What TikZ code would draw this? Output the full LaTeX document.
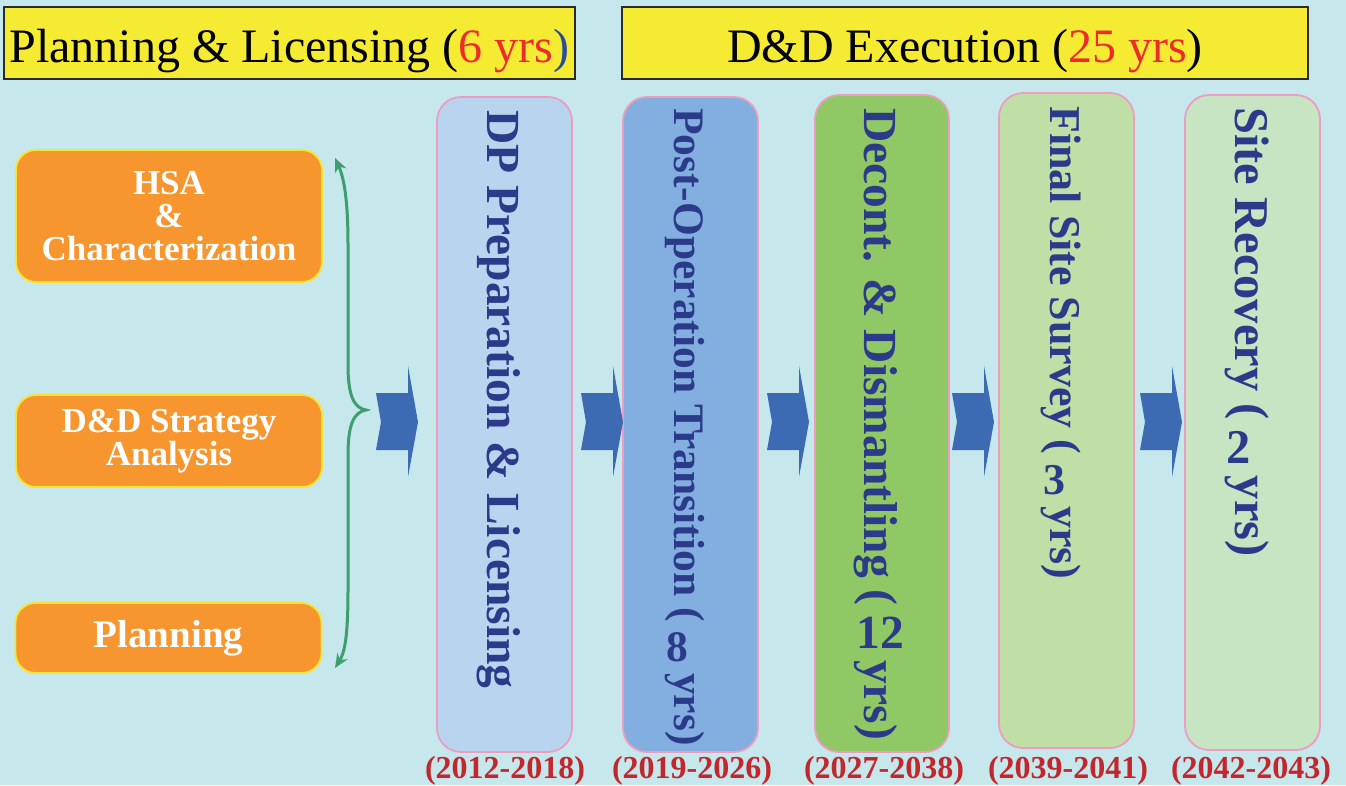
\documentclass[tikz,border=0pt]{standalone}
\usepackage{fontspec}
\setmainfont{Liberation Serif}
\usepackage{graphicx}
\usetikzlibrary{arrows.meta}
\definecolor{bg}{HTML}{C6E8EC}
\definecolor{ttlyellow}{HTML}{F4EB32}
\definecolor{ttlborder}{HTML}{2A2A2A}
\definecolor{ttlred}{HTML}{EE2B2B}
\definecolor{ttlblue}{HTML}{2B4B9B}
\definecolor{orangefill}{HTML}{F7952F}
\definecolor{orangeborder}{HTML}{F5E62C}
\definecolor{bracegreen}{HTML}{3F9E70}
\definecolor{arrowblue}{HTML}{3C6BB3}
\definecolor{colA}{HTML}{B8D4EF}
\definecolor{colB}{HTML}{82AFDF}
\definecolor{colC}{HTML}{8FC864}
\definecolor{colD}{HTML}{C0DFA6}
\definecolor{colE}{HTML}{C7E4C3}
\definecolor{colborder}{HTML}{EE9DC0}
\definecolor{navy}{HTML}{2C3A8A}
\definecolor{yearred}{HTML}{C1272D}
\newcommand{\updig}[1]{\raisebox{-0.17em}{\rotatebox{90}{#1}}}
\begin{document}
\begin{tikzpicture}[x=1pt,y=-1pt,
  titlebox/.style={draw=ttlborder,line width=1.6pt,fill=ttlyellow,inner sep=0pt,
    minimum height=72pt,font=\fontsize{48}{52}\selectfont,text=black,
    text height=40pt,text depth=2pt},
  orangebox/.style={draw=orangeborder,line width=1.8pt,fill=orangefill,rounded corners=20pt,
    minimum width=306pt,inner sep=0pt,align=center,text=white,
    font=\bfseries\fontsize{35}{33}\selectfont},
  colbox/.style={draw=colborder,line width=1.8pt,rounded corners=24pt,
    minimum width=135pt,inner sep=0pt},
  coltext/.style={rotate=-90,anchor=west,inner sep=0pt,text=navy},
  yearlbl/.style={anchor=base,inner sep=0pt,text=yearred,font=\bfseries\fontsize{32}{34}\selectfont},
  brace/.style={draw=bracegreen,line width=3pt,{Stealth[length=14pt,width=12pt]}-{Stealth[length=14pt,width=12pt]}},
  chev/.pic={\fill[arrowblue] (0,393) -- (32,393) -- (32,366) -- (42,422) -- (32,477) -- (32,450) -- (0,450) -- (5,422) -- cycle;}
]
\fill[bg] (0,0) rectangle (1346,785);
\useasboundingbox (0,0) rectangle (1346,785);

% title boxes
\node[titlebox,minimum width=571pt] (t1) at (289.5,43)
  {Planning \& Licensing (\textcolor{ttlred}{6 yrs}\textcolor{ttlblue}{)}};
\node[titlebox,minimum width=686pt] (t2) at (965,43)
  {D\&D Execution (\textcolor{ttlred}{25 yrs})};

% orange boxes
\node[orangebox,minimum height=132pt] (hsa) at (169,216) {HSA\\\&\\Characterization};
\node[orangebox,minimum height=92pt] (strat) at (169,441) {D\&D Strategy\\Analysis};
\node[orangebox,minimum height=70pt,font=\bfseries\fontsize{39}{40}\selectfont] (plan) at (168.5,638) {Planning};

% brace
\coordinate (bt) at (335,158);
\coordinate (bm) at (366,410);
\coordinate (bb) at (335,668);
\draw[brace] (bt) .. controls (345,180) and (348,205) .. (348,245) -- (348,365)
  .. controls (348,396) and (354,408) .. (bm)
  .. controls (354,412) and (348,424) .. (348,455) -- (348,590)
  .. controls (348,635) and (345,652) .. (bb);

% column boxes
\node[colbox,fill=colA,minimum height=655pt] (c1) at (504.5,424.5) {};
\node[colbox,fill=colB,minimum height=655pt] (c2) at (690.5,424.5) {};
\node[colbox,fill=colC,minimum height=657pt,minimum width=134pt] (c3) at (882,423.5) {};
\node[colbox,fill=colD,minimum height=655pt] (c4) at (1066.5,420.5) {};
\node[colbox,fill=colE,minimum height=655pt] (c5) at (1252.5,422.5) {};

% column texts
\node[coltext,font=\bfseries\fontsize{47.5}{48}\selectfont,text height=32.3pt,text depth=0.95pt]
  (x1) at (503.5,110) {DP Preparation \& Licensing};
\node[coltext,font=\bfseries\fontsize{43.5}{48}\selectfont,text height=29.6pt,text depth=0.87pt]
  (x2) at (688.5,108) {Post-Operation Transition ( \updig{8} yrs)};
\node[coltext,font=\bfseries\fontsize{47.5}{48}\selectfont,text height=32.3pt,text depth=0.95pt]
  (x3) at (880.5,108) {Decont. \& Dismantling ( \updig{12} yrs)};
\node[coltext,font=\bfseries\fontsize{44}{48}\selectfont,text height=29.9pt,text depth=0.88pt]
  (x4) at (1065,106) {Final Site Survey ( \updig{3} yrs)};
\node[coltext,font=\bfseries\fontsize{48.5}{48}\selectfont,text height=33pt,text depth=0.97pt]
  (x5) at (1251,107) {Site Recovery ( \updig{2} yrs)};

% year labels
\node[yearlbl] (y1) at (505,778) {(2012-2018)};
\node[yearlbl] (y2) at (692,778) {(2019-2026)};
\node[yearlbl] (y3) at (884,778) {(2027-2038)};
\node[yearlbl] (y4) at (1068,778) {(2039-2041)};
\node[yearlbl] (y5) at (1251,778) {(2042-2043)};

% chevron arrows
\pic at (376,0) {chev};
\pic at (581,0) {chev};
\pic at (767,0) {chev};
\pic at (952,0) {chev};
\pic at (1140,0) {chev};
\end{tikzpicture}
\end{document}
